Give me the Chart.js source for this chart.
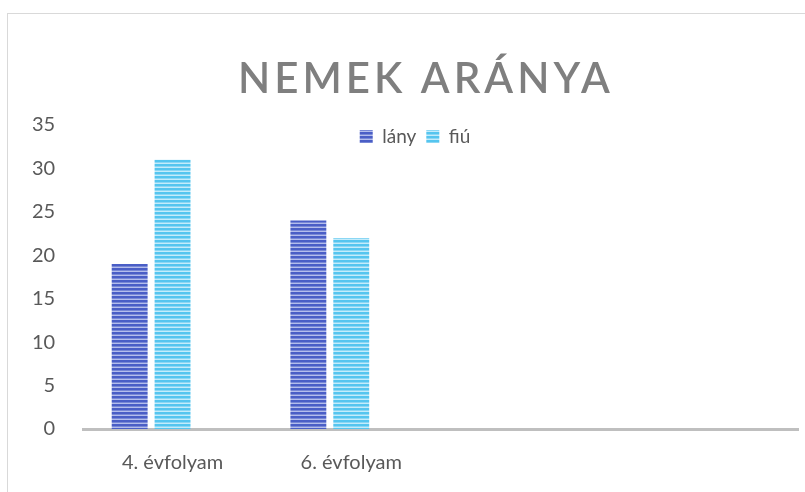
<!DOCTYPE html>
<html>
<head>
<meta charset="utf-8">
<script src="https://cdn.jsdelivr.net/npm/chart.js@4/dist/chart.umd.min.js"></script>
<style>
  html, body { margin: 0; padding: 0; background: #fff; overflow: hidden; }
  #wrap { position: relative; width: 805px; height: 492px; }
  #frame { position: absolute; left: 7px; top: 13px; width: 900px; height: 600px; border: 1.5px solid #d9d9d9; }
  canvas { position: absolute; left: 0; top: 0; }
</style>
</head>
<body>
<div id="wrap">
  <div id="frame"></div>
  <canvas id="chart" width="805" height="492"></canvas>
</div>
<script>
const TITLE = 'NEMEK ARÁNYA'
const categories = ['4. évfolyam', '6. évfolyam', '', '']
const lanyValues = [19, 24, null, null]
const fiuValues = [31, 22, null, null]
const emptyValues = [null, null, null, null]
const yTicks = [0, 5, 10, 15, 20, 25, 30, 35]

// striped fill like the Excel pattern
const stripes = (dark, mid, light) => {
  const c = document.createElement('canvas')
  c.width = 4
  c.height = 4
  const g = c.getContext('2d')
  const rows = [dark, dark, mid, light]
  rows.forEach((col, i) => {
    g.fillStyle = col
    g.fillRect(0, i, 4, 1)
  })
  return g.createPattern(c, 'repeat')
}

const ctx = document.getElementById('chart').getContext('2d')
const lanyFill = stripes('#4a5ec6', '#7888d6', '#b4bdec')
const fiuFill = stripes('#55c5ef', '#8bd7f4', '#c4ecfb')

const spacedTitle = {
  id: 'spacedTitle',
  afterDraw(chart) {
    const c = chart.ctx
    c.save()
    c.font = '600 42px Lato'
    c.fillStyle = '#7f7f7f'
    c.textAlign = 'center'
    c.textBaseline = 'alphabetic'
    c.letterSpacing = '4px'
    c.fillText(TITLE, 426, 93)
    c.restore()
  },
}

// Excel draws the legend on top of the plot area, so move it down after layout
const legendOverlay = {
  id: 'legendOverlay',
  afterLayout(chart) {
    const lg = chart.legend
    const dy = 117 - lg.top
    const dx = 415 - (lg.left + lg.right) / 2
    lg.top += dy
    lg.bottom += dy
    lg.left += dx
    lg.right += dx
  },
}

new Chart(ctx, {
  type: 'bar',
  data: {
    labels: categories,
    datasets: [
      { label: 'lány', data: lanyValues, backgroundColor: lanyFill },
      { label: 'fiú', data: fiuValues, backgroundColor: fiuFill },
      { label: '', data: emptyValues, backgroundColor: '#ffffff' },
    ],
  },
  options: {
    responsive: false,
    animation: false,
    layout: { padding: { top: 86, left: 12, right: 7, bottom: 3 } },
    datasets: {
      bar: { categoryPercentage: 0.72, barPercentage: 0.837 },
    },
    plugins: {
      title: { display: false },
      tooltip: { enabled: false },
      legend: {
        position: 'top',
        align: 'center',
        labels: {
          filter: (item) => item.text !== '',
          boxWidth: 13,
          boxHeight: 13,
          padding: 10,
          color: '#595959',
          font: { family: 'Lato', size: 19 },
        },
      },
    },
    scales: {
      x: {
        grid: { display: false },
        border: { display: true, color: '#bfbfbf', width: 3 },
        ticks: { color: '#595959', padding: 14, font: { family: 'Lato', size: 20 } },
      },
      y: {
        min: 0,
        max: 35,
        grid: { display: false },
        border: { display: false },
        afterBuildTicks: (axis) => {
          axis.ticks = yTicks.map((v) => ({ value: v }))
        },
        ticks: { color: '#595959', padding: 20, font: { family: 'Lato', size: 20 } },
      },
    },
  },
  plugins: [spacedTitle, legendOverlay],
})
</script>
</body>
</html>
